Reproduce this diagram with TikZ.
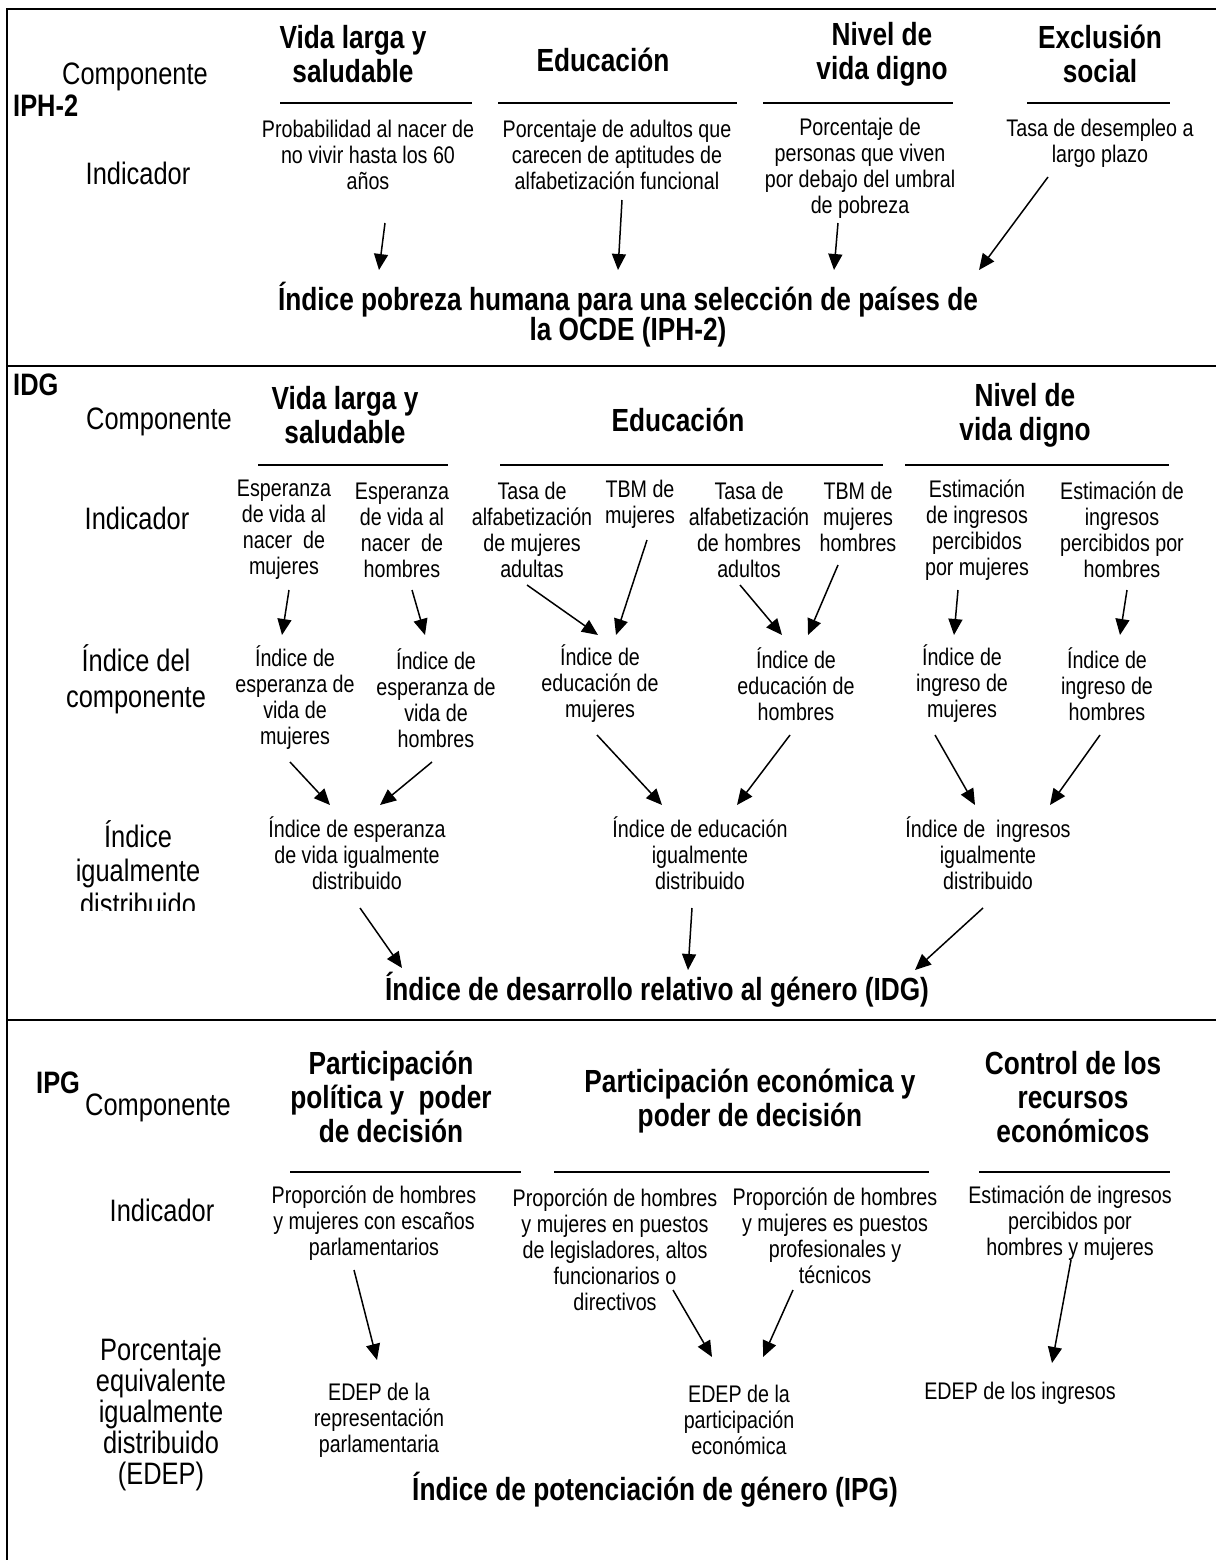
\documentclass[tikz,border=0pt]{standalone}
\usepackage{fontspec}
\setmainfont{Liberation Sans}[FakeStretch=0.82]
\usetikzlibrary{arrows.meta,calc}
\tikzset{
  sm/.style={font=\fontsize{24}{26}\selectfont, align=center, inner sep=0pt},
  hd/.style={font=\fontsize{32}{34}\selectfont\bfseries, align=center, inner sep=0pt},
  lab/.style={font=\fontsize{31}{34}\selectfont, align=center, inner sep=0pt},
  ttl/.style={font=\fontsize{32}{30}\selectfont\bfseries, align=center, inner sep=0pt},
  tag/.style={font=\fontsize{31}{30}\selectfont\bfseries, anchor=west, inner sep=0pt},
  arr/.style={line width=1.5pt, -{Triangle[length=16pt,width=14pt]}},
  rule/.style={line width=1.6pt},
  frame/.style={line width=2.6pt}
}
\begin{document}
\begin{tikzpicture}[x=1pt,y=-1pt]
\useasboundingbox (0,0) rectangle (1216,1560);
% frame
\draw[frame] (1216,9) -- (7,9) -- (7,1560);
\draw[frame] (7,366) -- (1216,366);
\draw[frame] (7,1020) -- (1216,1020);

% ---------------- IPH-2 ----------------
\node[lab] (comp1) at (135,77) {Componente};
\node[tag] (iph) at (13,106) {IPH-2};
\node[lab] (indl1) at (138,173) {Indicador};
\node[hd] (h11) at (353,54) {Vida larga y\\saludable};
\node[hd] (h12) at (603,60) {Educación};
\node[hd] (h13) at (882,54) {Nivel de\\vida digno};
\node[hd] (h14) at (1100,54) {Exclusión\\social};
\draw[rule] (280,103) -- (472,103);
\draw[rule] (498,103) -- (737,103);
\draw[rule] (763,103) -- (953,103);
\draw[rule] (1027,103) -- (1170,103);
\node[sm] (i11) at (368,155) {Probabilidad al nacer de\\no vivir hasta los 60\\años};
\node[sm] (i12) at (617,155) {Porcentaje de adultos que\\carecen de aptitudes de\\alfabetización funcional};
\node[sm] (i13) at (860,168) {Porcentaje de\\personas que viven\\por debajo del umbral\\de pobreza};
\node[sm] (i14) at (1100,143) {Tasa de desempleo a\\largo plazo};
\node[ttl] (t1) at (628,315) {Índice pobreza humana para una selección de países de\\la OCDE (IPH-2)};
\draw[arr] ($(i11)+(17,68)$) -- ($(t1)+(-249,-45)$);
\draw[arr] ($(i12)+(5,45)$) -- ($(t1)+(-10,-45)$);
\draw[arr] ($(i13)+(-22,55)$) -- ($(t1)+(206,-45)$);
\draw[arr] ($(i14)+(-52,34)$) -- ($(t1)+(351,-45)$);

% ---------------- IDG ----------------
\node[tag] (idg) at (13,385) {IDG};
\node[lab] (comp2) at (159,422) {Componente};
\node[hd] (h21) at (345,415) {Vida larga y\\saludable};
\node[hd] (h22) at (678,420) {Educación};
\node[hd] (h23) at (1025,415) {Nivel de\\vida digno};
\draw[rule] (258,465) -- (448,465);
\draw[rule] (500,465) -- (883,465);
\draw[rule] (905,465) -- (1169,465);
\node[lab] (indl2) at (137,518) {Indicador};
\node[sm] (a1) at (284,530) {Esperanza\\de vida al\\nacer\ \ de\\mujeres};
\node[sm] (a2) at (402,530) {Esperanza\\de vida al\\nacer\ \ de\\hombres};
\node[sm] (a3) at (532,530) {Tasa de\\alfabetización\\de mujeres\\adultas};
\node[sm] (a4) at (640,504) {TBM de\\mujeres};
\node[sm] (a5) at (749,530) {Tasa de\\alfabetización\\de hombres\\adultos};
\node[sm] (a6) at (858,517) {TBM de\\mujeres\\hombres};
\node[sm] (a7) at (977,530) {Estimación\\de ingresos\\percibidos\\por mujeres};
\node[sm] (a8) at (1122,530) {Estimación de\\ingresos\\percibidos por\\hombres};
\node[lab, font=\fontsize{31}{36}\selectfont] (cil) at (136,679) {Índice del\\componente};
\node[sm] (b1) at (295,698) {Índice de\\esperanza de\\vida de\\mujeres};
\node[sm] (b2) at (436,698) {Índice de\\esperanza de\\vida de\\hombres};
\node[sm] (b3) at (600,684) {Índice de\\educación de\\mujeres};
\node[sm] (b4) at (796,684) {Índice de\\educación de\\hombres};
\node[sm] (b5) at (962,684) {Índice de\\ingreso de\\mujeres};
\node[sm] (b6) at (1107,684) {Índice de\\ingreso de\\hombres};
\begin{scope}
\clip (0,366) rectangle (300,910);
\node[lab] (eql) at (138,868) {Índice\\igualmente\\distribuido};
\end{scope}
\node[sm] (c1) at (357,853) {Índice de esperanza\\de vida igualmente\\distribuido};
\node[sm] (c2) at (700,853) {Índice de educación\\igualmente\\distribuido};
\node[sm] (c3) at (988,853) {Índice de\ \ ingresos\\igualmente\\distribuido};
\node[ttl] (t2) at (657,990) {Índice de desarrollo relativo al género (IDG)};
\draw[arr] ($(a1)+(5,60)$) -- ($(b1)+(-13,-63)$);
\draw[arr] ($(a2)+(10,60)$) -- ($(b2)+(-11,-63)$);
\draw[arr] ($(a3)+(-5,55)$) -- ($(b3)+(-2,-49)$);
\draw[arr] ($(a4)+(7,36)$) -- ($(b3)+(16,-49)$);
\draw[arr] ($(a5)+(-9,55)$) -- ($(b4)+(-14,-49)$);
\draw[arr] ($(a6)+(-20,48)$) -- ($(b4)+(12,-49)$);
\draw[arr] ($(a7)+(-19,60)$) -- ($(b5)+(-8,-49)$);
\draw[arr] ($(a8)+(5,60)$) -- ($(b6)+(13,-49)$);
\draw[arr] ($(b1)+(-5,64)$) -- ($(c1)+(-27,-48)$);
\draw[arr] ($(b2)+(-4,64)$) -- ($(c1)+(23,-48)$);
\draw[arr] ($(b3)+(-3,51)$) -- ($(c2)+(-38,-48)$);
\draw[arr] ($(b4)+(-6,51)$) -- ($(c2)+(37,-48)$);
\draw[arr] ($(b5)+(-27,51)$) -- ($(c3)+(-13,-48)$);
\draw[arr] ($(b6)+(-7,51)$) -- ($(c3)+(62,-48)$);
\draw[arr] ($(c1)+(3,55)$) -- ($(t2)+(-255,-22)$);
\draw[arr] ($(c2)+(-8,55)$) -- ($(t2)+(31,-20)$);
\draw[arr] ($(c3)+(-5,55)$) -- ($(t2)+(258,-20)$);

% ---------------- IPG ----------------
\node[tag] (ipg) at (36,1083) {IPG};
\node[lab] (comp3) at (158,1108) {Componente};
\node[hd] (h31) at (391,1097) {Participación\\política y\ \ poder\\de decisión};
\node[hd] (h32) at (750,1101) {Participación económica y\\poder de decisión};
\node[hd] (h33) at (1073,1097) {Control de los\\recursos\\económicos};
\draw[rule] (290,1172) -- (521,1172);
\draw[rule] (554,1172) -- (929,1172);
\draw[rule] (979,1172) -- (1170,1172);
\node[lab] (indl3) at (162,1210) {Indicador};
\node[sm] (d1) at (374,1223) {Proporción de hombres\\y mujeres con escaños\\parlamentarios};
\node[sm] (d2) at (615,1250) {Proporción de hombres\\y mujeres en puestos\\de legisladores, altos\\funcionarios o\\directivos};
\node[sm] (d3) at (835,1236) {Proporción de hombres\\y mujeres es puestos\\profesionales y\\técnicos};
\node[sm] (d4) at (1070,1223) {Estimación de ingresos\\percibidos por\\hombres y mujeres};
\node[lab, font=\fontsize{31}{31}\selectfont] (pel) at (161,1414) {Porcentaje\\equivalente\\igualmente\\distribuido\\(EDEP)};
\node[sm] (e1) at (379,1420) {EDEP de la\\representación\\parlamentaria};
\node[sm] (e2) at (739,1420) {EDEP de la\\participación\\económica};
\node[sm] (e3) at (1020,1393) {EDEP de los ingresos};
\node[ttl] (t3) at (655,1490) {Índice de potenciación de género (IPG)};
\draw[arr] ($(d1)+(-20,47)$) -- ($(e1)+(-2,-60)$);
\draw[arr] ($(d2)+(58,40)$) -- ($(e2)+(-27,-63)$);
\draw[arr] ($(d3)+(-42,54)$) -- ($(e2)+(24,-63)$);
\draw[arr] ($(d4)+(1,37)$) -- ($(e3)+(32,-30)$);
\end{tikzpicture}
\end{document}
